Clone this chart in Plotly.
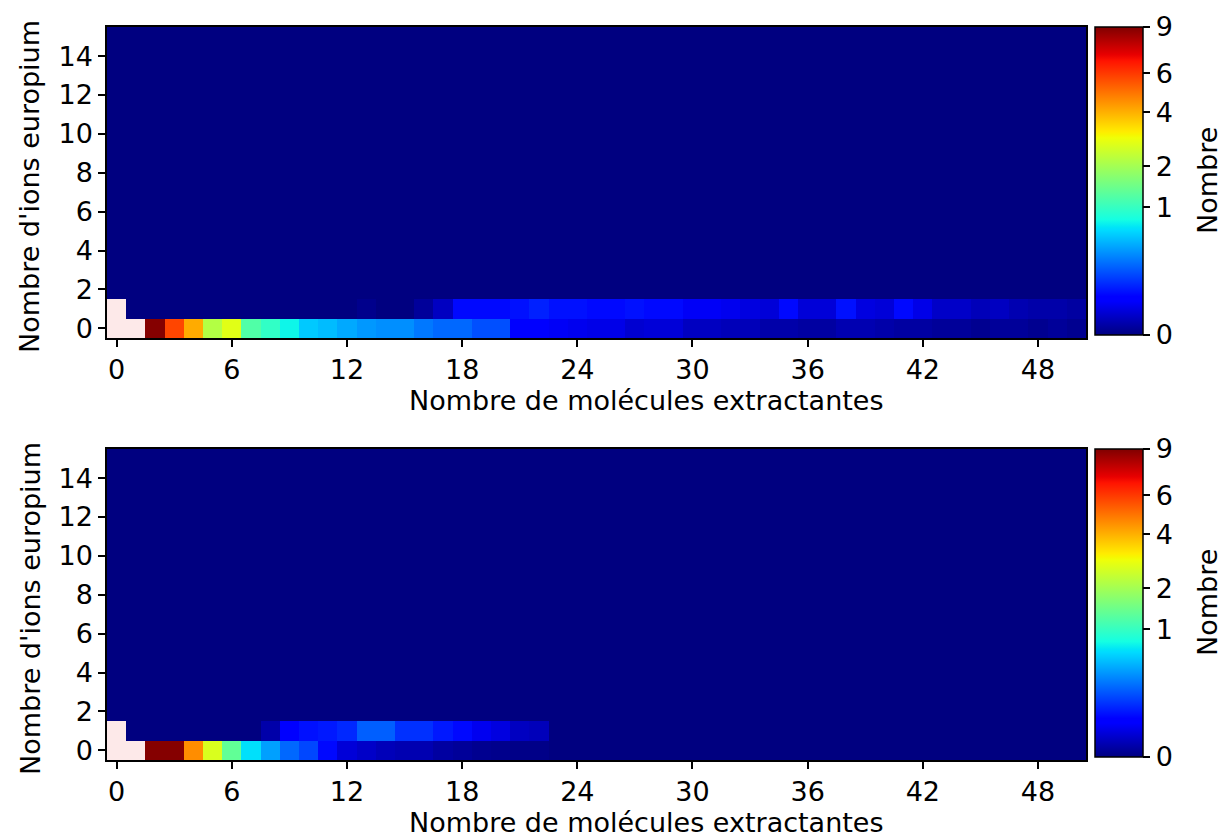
import numpy as np
import plotly.graph_objects as go

# ---------------- data ----------------
n_molecules = list(range(51))        # x categories
n_ions = list(range(16))             # y categories
VMAX = 9.0
GAMMA = 0.4
cbar_ticks = [0, 1, 2, 4, 6, 9]
x_ticks = [0, 6, 12, 18, 24, 30, 36, 42, 48]
y_ticks = [0, 2, 4, 6, 8, 10, 12, 14]

# values above VMAX are drawn in the "over" colour
top_row0 = [20, 20, 8.9, 5.77, 4.08, 2.18, 2.76, 1.20, 0.96, 0.73, 0.53, 0.48, 0.41,
            0.354, 0.328, 0.328, 0.262, 0.221, 0.221, 0.167, 0.167, 0.043, 0.043,
            0.031, 0.026, 0.022, 0.022, 0.0117, 0.0143, 0.0143, 0.0067, 0.0067,
            0.0048, 0.0048, 0.0021, 0.0021, 0.0012, 0.0012, 0.0033, 0.0033, 0.0021,
            0.0012, 0.0012, 0.0006, 0.0006, 0.0002, 0.0006, 0.0006, 0.0002, 0.0006,
            0.0002]
top_row1 = [20, 0, 0, 0, 0, 0, 0, 0, 0, 0, 0, 0, 0, 0.0001, 0, 0, 0.0007, 0.0067,
            0.058, 0.058, 0.058, 0.067, 0.0865, 0.067, 0.067, 0.058, 0.058, 0.067,
            0.058, 0.058, 0.031, 0.031, 0.026, 0.018, 0.0143, 0.058, 0.0143, 0.0143,
            0.067, 0.018, 0.0143, 0.058, 0.022, 0.0088, 0.0088, 0.0048, 0.0067,
            0.0033, 0.0021, 0.0021, 0.0012]
bot_row0 = [20, 20, 8.9, 8.9, 4.55, 2.65, 1.34, 0.63, 0.38, 0.221, 0.151, 0.058,
            0.0143, 0.0088, 0.0048, 0.0033, 0.0033, 0.0012, 0.0006, 0.0002, 0.0001,
            0.00004, 0.00004] + [0] * 28
bot_row1 = [20, 0, 0, 0, 0, 0, 0, 0, 0.0021, 0.043, 0.067, 0.076, 0.098, 0.20, 0.20,
            0.11, 0.11, 0.076, 0.058, 0.0264, 0.018, 0.0067, 0.005] + [0] * 28

x_title = "Nombre de molécules extractantes"
y_title = "Nombre d'ions europium"
cbar_title = "Nombre"

# ---------------- colour scale (matplotlib jet) ----------------
_red = [(0, 0), (0.35, 0), (0.66, 1), (0.89, 1), (1, 0.5)]
_green = [(0, 0), (0.125, 0), (0.375, 1), (0.64, 1), (0.91, 0), (1, 0)]
_blue = [(0, 0.5), (0.11, 1), (0.34, 1), (0.65, 0), (1, 0)]


def _interp(seg, t):
    xs = [p[0] for p in seg]
    ys = [p[1] for p in seg]
    return float(np.interp(t, xs, ys))


stops = sorted(set([p[0] for p in _red + _green + _blue]))
jet = []
for s in stops:
    r, g, b = (_interp(_red, s), _interp(_green, s), _interp(_blue, s))
    jet.append([s, f"rgb({round(r*255)},{round(g*255)},{round(b*255)})"])

OVER = "#fde9e9"
FONT = "DejaVu Sans"
FS = 27


def build_z(row0, row1):
    z = np.zeros((len(n_ions), len(n_molecules)))
    z[0, :] = row0
    z[1, :] = row1
    return z


panels = [(build_z(top_row0, top_row1), "x", "y"),
          (build_z(bot_row0, bot_row1), "x2", "y2")]

W, H = 1221, 834
xdom = [107 / W, 1086 / W]
ypix = [(27, 338), (449, 760)]
ydoms = [[1 - b / H, 1 - t / H] for t, b in ypix]
xtitle_y = [400, 822]
ytitle_y = [187, 609]

fig = go.Figure()
for i, (z, xa, ya) in enumerate(panels):
    over = z > VMAX
    zn = np.where(over, np.nan, np.clip(z, 0, VMAX) / VMAX) ** GAMMA
    ydom = ydoms[i]
    top_px, bot_px = ypix[i]
    fig.add_trace(go.Heatmap(
        x=n_molecules, y=n_ions, z=zn, xaxis=xa, yaxis=ya,
        colorscale=jet, zmin=0, zmax=1, zsmooth=False, hoverongaps=False,
        colorbar=dict(
            x=1095 / W, xanchor="left", xpad=0, ypad=0,
            y=1 - (bot_px - 3) / H, yanchor="bottom", len=(bot_px - 3 - top_px) / H,
            lenmode="fraction", thickness=48, thicknessmode="pixels",
            outlinewidth=1.5, outlinecolor="black",
            tickvals=[(v / VMAX) ** GAMMA for v in cbar_ticks],
            ticktext=[str(v) for v in cbar_ticks],
            ticks="outside", ticklen=7, tickwidth=1.5, tickcolor="black",
            tickfont=dict(family=FONT, size=FS, color="black"),
        ),
    ))
    zo = np.where(over, 1.0, np.nan)
    fig.add_trace(go.Heatmap(
        x=n_molecules, y=n_ions, z=zo, xaxis=xa, yaxis=ya,
        colorscale=[[0, OVER], [1, OVER]], showscale=False, zsmooth=False,
        hoverongaps=False,
    ))
    fig.add_annotation(
        text=cbar_title, textangle=-90, x=1207 / W,
        y=1 - ((top_px + bot_px - 3) / 2) / H,
        xref="paper", yref="paper", showarrow=False, xanchor="center", yanchor="middle",
        font=dict(family=FONT, size=FS, color="black"),
    )
    fig.add_annotation(
        text=x_title, x=646 / W, y=1 - xtitle_y[i] / H,
        xref="paper", yref="paper", showarrow=False, xanchor="center", yanchor="middle",
        font=dict(family=FONT, size=FS, color="black"),
    )
    fig.add_annotation(
        text=y_title, textangle=-90, x=30 / W, y=1 - ytitle_y[i] / H,
        xref="paper", yref="paper", showarrow=False, xanchor="center", yanchor="middle",
        font=dict(family=FONT, size=FS, color="black"),
    )

axis_common = dict(showline=True, linecolor="black", linewidth=1.5, mirror=True,
                   ticks="outside", ticklen=7, tickwidth=1.5, tickcolor="black",
                   showgrid=False, zeroline=False, automargin=False,
                   tickfont=dict(family=FONT, size=FS, color="black"))

for i, (xa, ya) in enumerate([("xaxis", "yaxis"), ("xaxis2", "yaxis2")]):
    anchor_y = "y" if i == 0 else "y2"
    anchor_x = "x" if i == 0 else "x2"
    fig.update_layout(**{
        xa: dict(domain=xdom, anchor=anchor_y, range=[-0.5, 50.5], tickvals=x_ticks,
                 **axis_common),
        ya: dict(domain=ydoms[i], anchor=anchor_x, range=[-0.5, 15.5], tickvals=y_ticks,
                 **axis_common),
    })

fig.update_layout(width=W, height=H, margin=dict(l=0, r=0, t=0, b=0, autoexpand=False),
                  paper_bgcolor="white", plot_bgcolor="white", showlegend=False,
                  font=dict(family=FONT, color="black"))

fig.write_html("out.html", config={"displayModeBar": False},
               post_script="document.body.style.margin='0';")
